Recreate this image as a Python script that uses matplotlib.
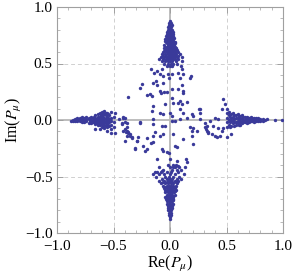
import matplotlib
matplotlib.use("Agg")
import matplotlib.pyplot as plt
from matplotlib.ticker import MultipleLocator

# ---- data ----
# top arm: Im level -> list of Re values
top_arm_rows = {
    0.88: [0.0], 0.86: [-0.005, 0.01], 0.84: [-0.01, 0.005, 0.015],
    0.82: [-0.015, 0.0, 0.012], 0.80: [-0.02, -0.005, 0.008, 0.02],
    0.78: [-0.025, -0.01, 0.0, 0.015, 0.025], 0.76: [-0.03, -0.012, 0.003, 0.018, 0.03],
    0.74: [-0.035, -0.02, -0.005, 0.01, 0.025],
    0.73: [-0.028, -0.012, 0.002, 0.017, 0.034],
    0.72: [-0.04, -0.02, -0.008, 0.005, 0.02, 0.03],
    0.70: [-0.045, -0.025, -0.01, 0.0, 0.015, 0.03],
    0.69: [-0.038, -0.018, -0.004, 0.008, 0.022, 0.045],
    0.68: [-0.03, -0.015, 0.0, 0.01, 0.025, 0.04],
    0.66: [-0.05, -0.02, -0.005, 0.01, 0.02, 0.035],
    0.65: [-0.042, -0.028, -0.01, 0.005, 0.025, 0.042],
    0.64: [-0.055, -0.035, -0.015, 0.0, 0.015, 0.03, 0.05],
    0.62: [-0.04, -0.02, -0.005, 0.01, 0.025, 0.045, 0.06],
    0.61: [-0.05, -0.032, -0.015, 0.0, 0.018, 0.035, 0.055],
    0.60: [-0.06, -0.03, -0.01, 0.005, 0.02, 0.04, 0.07],
    0.58: [-0.07, -0.045, -0.02, 0.0, 0.015, 0.035, 0.05, 0.09],
    0.57: [-0.06, -0.035, -0.012, 0.008, 0.025, 0.045, 0.075],
    0.56: [-0.08, -0.05, -0.03, -0.01, 0.01, 0.03, 0.06, 0.11],
    0.54: [-0.1, -0.06, -0.035, -0.015, 0.005, 0.025, 0.045, 0.075],
    0.52: [-0.07, -0.04, -0.02, 0.0, 0.02, 0.05, 0.11],
    0.50: [-0.05, -0.02, 0.005, 0.03, 0.06],
    0.48: [-0.03, 0.0, 0.02, 0.1],
}

# bottom arm: Im level -> list of Re values
bottom_arm_rows = {
    -0.40: [-0.02, 0.03, 0.05], -0.42: [-0.1, 0.0, 0.04, 0.08],
    -0.44: [-0.06, 0.02, 0.06, 0.1], -0.46: [-0.13, -0.08, -0.03, 0.01, 0.07],
    -0.48: [-0.1, -0.05, 0.0, 0.04, 0.12], -0.50: [-0.12, -0.04, -0.01, 0.03, 0.08],
    -0.52: [-0.07, -0.03, 0.0, 0.02, 0.06, 0.1],
    -0.54: [-0.1, -0.05, -0.02, 0.01, 0.04, 0.07],
    -0.55: [-0.065, -0.03, -0.005, 0.02, 0.05],
    -0.56: [-0.08, -0.04, -0.015, 0.005, 0.03, 0.06],
    -0.58: [-0.06, -0.03, -0.01, 0.01, 0.03, 0.05],
    -0.59: [-0.045, -0.018, 0.005, 0.025, 0.045],
    -0.60: [-0.05, -0.025, 0.0, 0.02, 0.04],
    -0.62: [-0.04, -0.02, -0.005, 0.01, 0.03, 0.05],
    -0.63: [-0.03, -0.01, 0.005, 0.02, 0.04],
    -0.64: [-0.045, -0.02, 0.0, 0.015, 0.035],
    -0.66: [-0.03, -0.01, 0.005, 0.02, 0.04],
    -0.67: [-0.025, -0.005, 0.012, 0.028],
    -0.68: [-0.04, -0.02, 0.0, 0.01, 0.03],
    -0.70: [-0.035, -0.015, 0.0, 0.015, 0.03],
    -0.71: [-0.025, -0.005, 0.01, 0.025],
    -0.72: [-0.03, -0.01, 0.005, 0.02],
    -0.74: [-0.025, -0.01, 0.0, 0.015, 0.03],
    -0.76: [-0.02, -0.005, 0.01, 0.02], -0.78: [-0.02, 0.0, 0.015],
    -0.80: [-0.015, 0.0, 0.01], -0.82: [-0.01, 0.005], -0.84: [-0.005, 0.01],
    -0.86: [0.0], -0.88: [0.0],
}

# left arm: Re level -> list of Im values
left_arm_cols = {
    -0.88: [-0.005], -0.86: [0.0, -0.01], -0.84: [0.01, -0.005],
    -0.82: [0.015, 0.0, -0.01], -0.80: [0.02, 0.005, -0.01],
    -0.79: [0.012, -0.004],
    -0.78: [0.01, -0.015, 0.025], -0.76: [0.0, 0.02, -0.02],
    -0.75: [0.012, -0.008],
    -0.74: [0.03, 0.01, -0.01], -0.72: [-0.025, 0.005, 0.02],
    -0.71: [0.015, -0.01],
    -0.70: [0.03, 0.0, -0.015, -0.03], -0.68: [0.02, -0.005, -0.02],
    -0.67: [0.01, 0.03, -0.015],
    -0.66: [0.04, 0.01, -0.01, -0.035, -0.076],
    -0.65: [0.02, -0.005, -0.025],
    -0.64: [0.05, 0.025, 0.0, -0.02, -0.04],
    -0.63: [0.015, -0.03],
    -0.62: [0.06, 0.03, 0.005, -0.015, -0.045, -0.076],
    -0.61: [0.045, 0.02, -0.005, -0.025],
    -0.60: [0.07, 0.04, 0.015, -0.01, -0.03, -0.06],
    -0.59: [0.055, 0.03, 0.0, -0.04],
    -0.58: [0.08, 0.05, 0.02, -0.005, -0.025, -0.05, -0.075],
    -0.57: [0.065, 0.04, 0.01, -0.015, -0.04],
    -0.56: [0.06, 0.03, 0.0, -0.03, -0.06, -0.097],
    -0.55: [0.05, 0.02, -0.01, -0.045],
    -0.54: [0.04, 0.01, -0.02, -0.05],
    -0.52: [0.07, 0.02, -0.01, -0.04, -0.08, -0.112],
    -0.50: [0.03, -0.02, -0.06],
}

# right arm: Re level -> list of Im values
right_arm_cols = {
    0.50: [0.06, 0.02, -0.02, -0.06, 0.095], 0.52: [0.04, 0.0, -0.04, 0.075],
    0.53: [0.025, -0.015, -0.06],
    0.54: [0.05, 0.02, -0.01, -0.05, -0.127], 0.56: [0.06, 0.03, 0.0, -0.03],
    0.57: [0.045, 0.01, -0.02, -0.05],
    0.58: [0.04, 0.015, -0.015, -0.04], 0.60: [0.05, 0.02, -0.005, -0.03],
    0.61: [0.035, 0.005, -0.02, -0.045],
    0.62: [0.035, 0.01, -0.02, -0.04], 0.64: [0.04, 0.015, -0.01, -0.03],
    0.65: [0.025, 0.0, -0.02],
    0.66: [0.03, 0.0, -0.02], 0.68: [0.025, 0.005, -0.015, -0.03],
    0.69: [0.015, -0.005, -0.02],
    0.70: [0.02, 0.0, -0.02], 0.72: [0.03, 0.01, -0.01],
    0.73: [0.018, -0.005],
    0.74: [0.02, 0.0, -0.015], 0.76: [0.015, -0.005],
    0.78: [0.02, 0.0, -0.01], 0.80: [0.01, -0.005],
    0.82: [0.005, -0.01], 0.84: [0.0], 0.86: [0.005], 0.93: [0.0], 0.99: [0.0],
}

# scattered points in the middle region
middle_x = [-0.171, -0.139, -0.112, -0.074, -0.088, -0.153, -0.124, -0.118, -0.065,
            -0.059, -0.021, -0.006, 0.021, 0.074, 0.103, 0.118, 0.088, 0.177, 0.183,
            -0.25, -0.265, -0.369, -0.206, -0.177, -0.156, -0.088, -0.08, -0.05, -0.03,
            0.015, 0.015, 0.029, 0.074, 0.103, 0.112, 0.118, 0.088, 0.074, 0.103, 0.147,
            -0.044, -0.147, -0.162, -0.088, -0.059, 0.0, 0.021, 0.088, 0.118, 0.147,
            0.192, 0.265, 0.265, -0.413, -0.398,
            -0.428, -0.398, -0.383, -0.413, -0.389, -0.369, -0.354, -0.339, -0.31,
            -0.295, -0.28, -0.236, -0.206, -0.221, -0.171, -0.147, -0.147, -0.147,
            -0.133, -0.088, -0.059, -0.265, -0.147, -0.074, -0.044, 0.015, 0.044,
            0.088, 0.029, 0.044, 0.059, 0.118, 0.177, 0.192, 0.192, 0.206, 0.236,
            0.265, 0.31, 0.324, 0.339, -0.074, -0.059, -0.03, -0.006, -0.118, 0.0,
            0.059, 0.074, 0.029, 0.142, 0.147, 0.133, -0.118, -0.147, -0.074,
            -0.487, -0.448, -0.413, -0.383, -0.428, -0.398, -0.383, -0.369, -0.354,
            -0.383, -0.339, -0.265, -0.295, -0.206, -0.31, -0.398, -0.487,
            0.31, 0.324, 0.32, 0.339, 0.369, 0.398, 0.413, 0.442, 0.457, 0.472,
            0.427, 0.383, 0.354, 0.398, 0.427, 0.457, 0.472, 0.487, 0.26, 0.206,
            0.206, 0.5]
middle_y = [0.449, 0.419, 0.437, 0.449, 0.404, 0.331, 0.345, 0.31, 0.331,
            0.389, 0.404, 0.375, 0.404, 0.419, 0.449, 0.404, 0.375, 0.375, 0.389,
            0.316, 0.287, 0.207, 0.219, 0.227, 0.212, 0.257, 0.242, 0.248, 0.248,
            0.272, 0.198, 0.154, 0.272, 0.307, 0.257, 0.242, 0.168, 0.154, 0.139, 0.159,
            0.139, 0.124, 0.08, 0.065, 0.05, 0.059, 0.035, 0.095, 0.065, 0.021,
            0.05, 0.095, 0.065, 0.03, 0.021,
            -0.035, -0.02, -0.065, -0.094, -0.109, -0.109, -0.138, -0.153, -0.257,
            -0.182, -0.153, -0.227, -0.257, -0.271, -0.206, -0.197, -0.138, -0.035,
            -0.109, -0.138, -0.124, -0.02, 0.009, -0.05, -0.05, -0.005, -0.005,
            0.009, -0.124, -0.227, -0.242, -0.168, -0.065, -0.094, -0.138, -0.212, -0.094,
            0.009, -0.065, -0.094, -0.109, -0.257, -0.271, -0.286, -0.295, -0.345, -0.345,
            -0.359, -0.404, -0.419, -0.345, -0.374, -0.419, -0.463, -0.478, -0.448,
            0.065, 0.006, 0.021, -0.023, -0.023, -0.082, -0.097, -0.112, -0.127,
            -0.141, -0.156, -0.023, -0.186, -0.156, -0.244, -0.186, -0.112,
            -0.023, -0.053, -0.083, -0.112, -0.127, -0.141, -0.15, -0.141, -0.097, -0.067,
            -0.067, -0.053, -0.009, 0.021, 0.006, 0.095, 0.183, 0.139, 0.095, 0.035,
            -0.067, -0.15]

# tick labels
tick_vals = [-1.0, -0.5, 0.0, 0.5, 1.0]
tick_labels = ["\u22121.0", "\u22120.5", "0.0", "0.5", "1.0"]

xs, ys = [], []
for yv, row in top_arm_rows.items():
    xs += row; ys += [yv] * len(row)
for yv, row in bottom_arm_rows.items():
    xs += row; ys += [yv] * len(row)
for xv, col in left_arm_cols.items():
    ys += col; xs += [xv] * len(col)
for xv, col in right_arm_cols.items():
    ys += col; xs += [xv] * len(col)
xs += middle_x; ys += middle_y

plt.rcParams['font.family'] = ['Liberation Serif', 'DejaVu Serif']
plt.rcParams['mathtext.fontset'] = 'stix'

fig = plt.figure(figsize=(2.93, 2.76), dpi=100)
ax = fig.add_axes([57/293, 1-233/276, 226/293, 226/276])
frame_col = '#a0a0a0'
ax.axhline(0, color='#b8b8b8', lw=1.3, zorder=1)
ax.axvline(0, color='#b8b8b8', lw=1.3, zorder=1)
for v in (-0.5, 0.5):
    ax.axhline(v, color='#d0d0d0', lw=0.7, ls=(0, (4, 3)), zorder=0)
    ax.axvline(v, color='#d0d0d0', lw=0.7, ls=(0, (4, 3)), zorder=0)
ax.scatter(xs, ys, s=6, color='#3a3a9a', linewidths=0, zorder=3)
ax.set_xlim(-1, 1)
ax.set_ylim(-1, 1)
ax.set_xticks(tick_vals)
ax.set_xticklabels(tick_labels)
ax.set_yticks(tick_vals)
ax.set_yticklabels(tick_labels)
ax.xaxis.set_minor_locator(MultipleLocator(0.1))
ax.yaxis.set_minor_locator(MultipleLocator(0.1))
ax.tick_params(which='both', direction='in', top=True, right=True,
               color=frame_col, labelsize=11)
ax.tick_params(axis='x', which='major', pad=5)
ax.tick_params(axis='y', which='major', pad=3)
ax.tick_params(which='major', length=4, width=0.7)
ax.tick_params(which='minor', length=2, width=0.5)
for sp in ax.spines.values():
    sp.set_color(frame_col)
    sp.set_linewidth(0.8)
ax.set_xlabel(r"Re($P_\mu$)", fontsize=11.5, labelpad=1)
ax.set_ylabel(r"Im($P_\mu$)", fontsize=11.5, labelpad=1)
fig.savefig("out.png", dpi=100)
